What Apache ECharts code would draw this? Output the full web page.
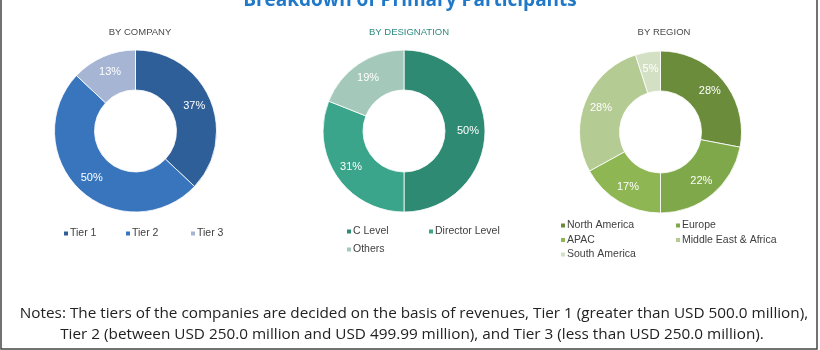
<!DOCTYPE html>
<html>
<head>
<meta charset="utf-8">
<script src="https://cdn.jsdelivr.net/npm/echarts@6/dist/echarts.min.js"></script>
<style>html,body{margin:0;padding:0;background:#fff}#c{width:820px;height:350px}</style>
</head>
<body>
<div id="c"></div>
<script>
const companyNames = ['Tier 1', 'Tier 2', 'Tier 3'];
const companyValues = [37, 50, 13];
const designationNames = ['C Level', 'Director Level', 'Others'];
const designationValues = [50, 31, 19];
const regionNames = ['North America', 'Europe', 'APAC', 'Middle East & Africa', 'South America'];
const regionValues = [28, 22, 17, 28, 5];

const companyColors = ['#2f5f98', '#3875bd', '#a6b5d4'];
const designationColors = ['#2e8a73', '#3aa58b', '#a4c9bb'];
const regionColors = ['#6b8c3b', '#7fa84a', '#8eb653', '#b4cb93', '#d4e0c4'];

function mk(names, values, colors) {
  return names.map((n, i) => ({ name: n, value: values[i], itemStyle: { color: colors[i] } }));
}
function pie(center, data) {
  return {
    type: 'pie', center: center, radius: [41, 81], startAngle: 90, clockwise: true,
    avoidLabelOverlap: false, silent: true,
    itemStyle: { borderColor: '#ffffff', borderWidth: 0.8 },
    label: { show: true, position: 'inside', formatter: '{c}%', color: '#ffffff',
      fontSize: 11, fontFamily: 'Liberation Sans', letterSpacing: 1.2 },
    labelLine: { show: false },
    data: data
  };
}
const legendBase = {
  icon: 'rect', itemWidth: 6, itemHeight: 6, itemGap: 8, selectedMode: false,
  textStyle: { fontSize: 10.5, color: '#404040', fontFamily: 'Liberation Sans', padding: [0, 0, 0, -4] }
};
const subStyle = { fontSize: 9.5, fontWeight: 'normal', fontFamily: 'Liberation Sans', letterSpacing: 0.5 };

const chart = echarts.init(document.getElementById('c'), null, { renderer: 'canvas' });
chart.setOption({
  animation: false,
  title: [
    { text: 'Breakdown of Primary Participants', left: 'center', top: -14,
      textStyle: { fontSize: 19, fontWeight: 'bold', color: '#1f78c8', fontFamily: 'Open Sans' } },
    { text: 'BY COMPANY', left: 135, top: 22, textAlign: 'center', textStyle: Object.assign({ color: '#4a4a4a' }, subStyle) },
    { text: 'BY DESIGNATION', left: 404, top: 22, textAlign: 'center', textStyle: Object.assign({ color: '#2e8a80' }, subStyle) },
    { text: 'BY REGION', left: 659, top: 22, textAlign: 'center', textStyle: Object.assign({ color: '#4a4a4a' }, subStyle) }
  ],
  legend: [
    Object.assign({}, legendBase, { data: ['Tier 1'], left: 57, top: 223 }),
    Object.assign({}, legendBase, { data: ['Tier 2'], left: 119, top: 223 }),
    Object.assign({}, legendBase, { data: ['Tier 3'], left: 184, top: 223 }),
    Object.assign({}, legendBase, { data: ['C Level', 'Others'], left: 340, top: 221, orient: 'vertical', itemGap: 7 }),
    Object.assign({}, legendBase, { data: ['Director Level'], left: 422, top: 221 }),
    Object.assign({}, legendBase, { data: ['North America', 'APAC', 'South America'], left: 554, top: 215, orient: 'vertical', itemGap: 3.5 }),
    Object.assign({}, legendBase, { data: ['Europe', 'Middle East & Africa'], left: 669, top: 215, orient: 'vertical', itemGap: 3.5 })
  ],
  series: [
    pie([135.5, 131], mk(companyNames, companyValues, companyColors)),
    pie([404, 131], mk(designationNames, designationValues, designationColors)),
    pie([660.5, 132], mk(regionNames, regionValues, regionColors))
  ],
  graphic: [
    { type: 'rect', shape: { x: 1, y: -5, width: 816, height: 354 }, silent: true,
      style: { fill: 'none', stroke: '#444', lineWidth: 1.5 } },
    { type: 'text', x: 414, y: 314, silent: true,
      style: { text: 'Notes: The tiers of the companies are decided on the basis of revenues, Tier 1 (greater than USD 500.0 million),',
        align: 'center', verticalAlign: 'middle', fontSize: 15.3, fill: '#222', fontFamily: 'Open Sans' } },
    { type: 'text', x: 412, y: 335, silent: true,
      style: { text: 'Tier 2 (between USD 250.0 million and USD 499.99 million), and Tier 3 (less than USD 250.0 million).',
        align: 'center', verticalAlign: 'middle', fontSize: 15.3, fill: '#222', fontFamily: 'Open Sans' } }
  ]
});
</script>
</body>
</html>
